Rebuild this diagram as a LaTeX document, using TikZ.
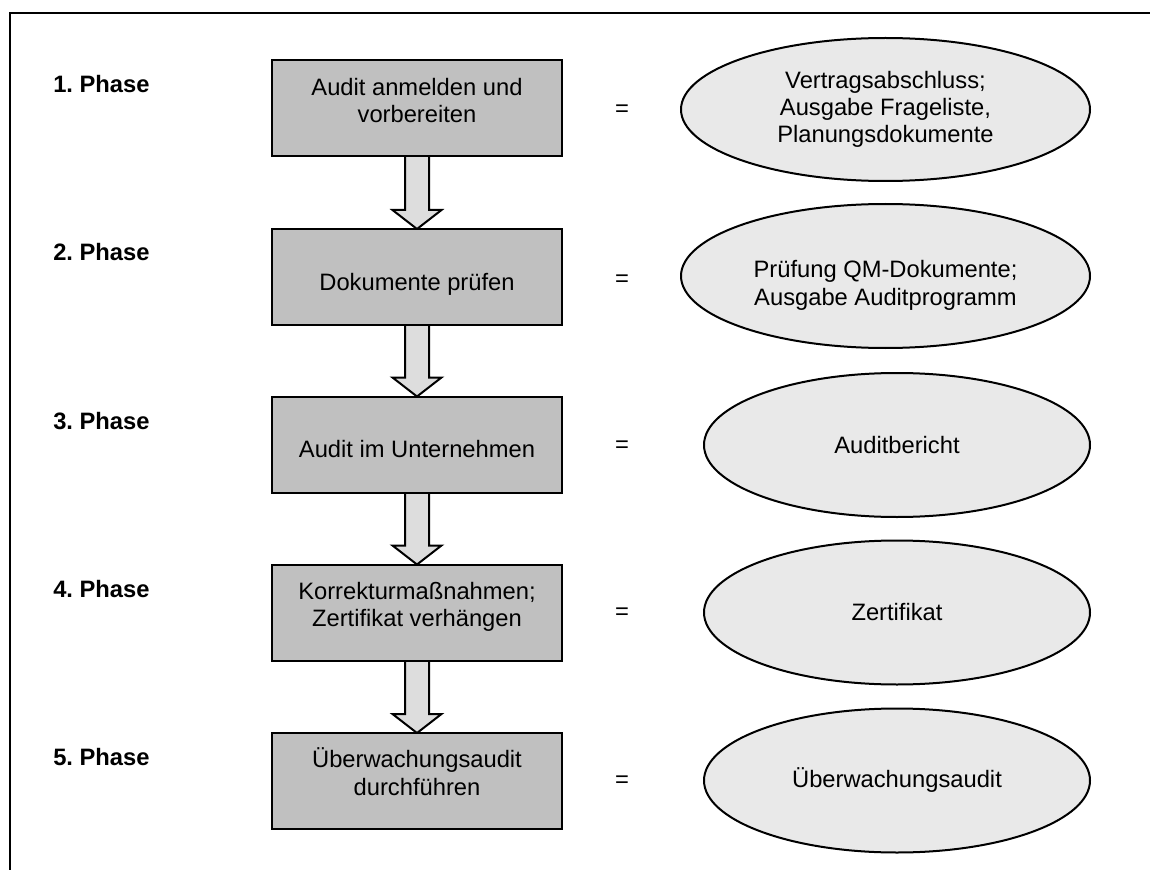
\documentclass[tikz,border=0pt]{standalone}
\usepackage{fontspec}
\setmainfont{Liberation Sans}
\frenchspacing
\usetikzlibrary{shapes.geometric,calc}
\pgfdeclarelayer{background}
\pgfsetlayers{background,main}

\definecolor{boxgray}{RGB}{192,192,192}
\definecolor{arrowgray}{RGB}{221,221,221}
\definecolor{ovalgray}{RGB}{233,233,233}

\begin{document}
\begin{tikzpicture}[x=0.75pt,y=-0.75pt,
  every node/.style={font=\fontsize{17.8pt}{20.3pt}\selectfont},
  phaselabel/.style={anchor=base west,inner sep=0pt,font=\fontsize{17.8pt}{20.3pt}\selectfont\bfseries},
  stepbox/.style={draw,line width=1.5pt,fill=boxgray,align=center,
    minimum width=217.5pt,minimum height=72pt,inner xsep=4pt,inner ysep=0pt,outer sep=0pt},
  % the baseline of a multi-line node is that of its last line
  twolines/.style={text height=46.5pt,text depth=25.5pt},
  oneline/.style={text height=45.75pt,text depth=26.25pt},
  result/.style={draw,line width=1.5pt,fill=ovalgray,ellipse,align=center,inner sep=0pt,
    minimum width=289.5pt,minimum height=108pt},
  wideresult/.style={result,minimum width=306.75pt},
  equals/.style={inner sep=0pt},
  flowarrow/.style={draw,line width=1.5pt,fill=arrowgray,line join=miter}
]
\useasboundingbox (0,0) rectangle (1150,870);

% open frame: top and left edges only
\draw[line width=1.5pt] (1150,13) -- (9.5,13) -- (9.5,870);

% phase labels
\node[phaselabel] (p1) at (53,93)  {1. Phase};
\node[phaselabel] (p2) at (53,261) {2. Phase};
\node[phaselabel] (p3) at (53,429) {3. Phase};
\node[phaselabel] (p4) at (53,597) {4. Phase};
\node[phaselabel] (p5) at (53,765) {5. Phase};

% process steps
\node[stepbox,twolines] (b1) at (417,108.5) {Audit anmelden und\\vorbereiten};
\node[stepbox,oneline]  (b2) at (417,277)   {Dokumente prüfen};
\node[stepbox,oneline]  (b3) at (417,444.5) {Audit im Unternehmen};
\node[stepbox,twolines] (b4) at (417,612.5) {Korrekturmaßnahmen;\\Zertifikat verhängen};
\node[stepbox,twolines] (b5) at (417,781)   {Überwachungsaudit\\durchführen};

% equals signs
\node[equals] (q1) at (622,111) {=};
\node[equals] (q2) at (622,281) {=};
\node[equals] (q3) at (622,447) {=};
\node[equals] (q4) at (622,614) {=};
\node[equals] (q5) at (622,782) {=};

% results
\node[wideresult,minimum height=107.25pt] (e1) at (885.5,109.5) {Vertragsabschluss;\\Ausgabe Frageliste,\\Planungsdokumente};
\node[wideresult,text height=51.75pt,text depth=8.25pt] (e2) at (885.5,276) {Prüfung QM-Dokumente;\\Ausgabe Auditprogramm};
\node[result] (e3) at (897,445)   {Auditbericht};
\node[result] (e4) at (897,612.5) {Zertifikat};
\node[result] (e5) at (897,780.5) {Überwachungsaudit};

% block arrows between the steps
\begin{pgfonlayer}{background}
\foreach \a/\b in {b1/b2,b2/b3,b3/b4,b4/b5}{
  \draw[flowarrow] ($(\a.south)+(-12,0)$) -- ($(\b.north)+(-12,-19)$)
    -- ($(\b.north)+(-24.5,-19)$) -- (\b.north) -- ($(\b.north)+(24.5,-19)$)
    -- ($(\b.north)+(12,-19)$) -- ($(\a.south)+(12,0)$);
}
\end{pgfonlayer}
\end{tikzpicture}
\end{document}
